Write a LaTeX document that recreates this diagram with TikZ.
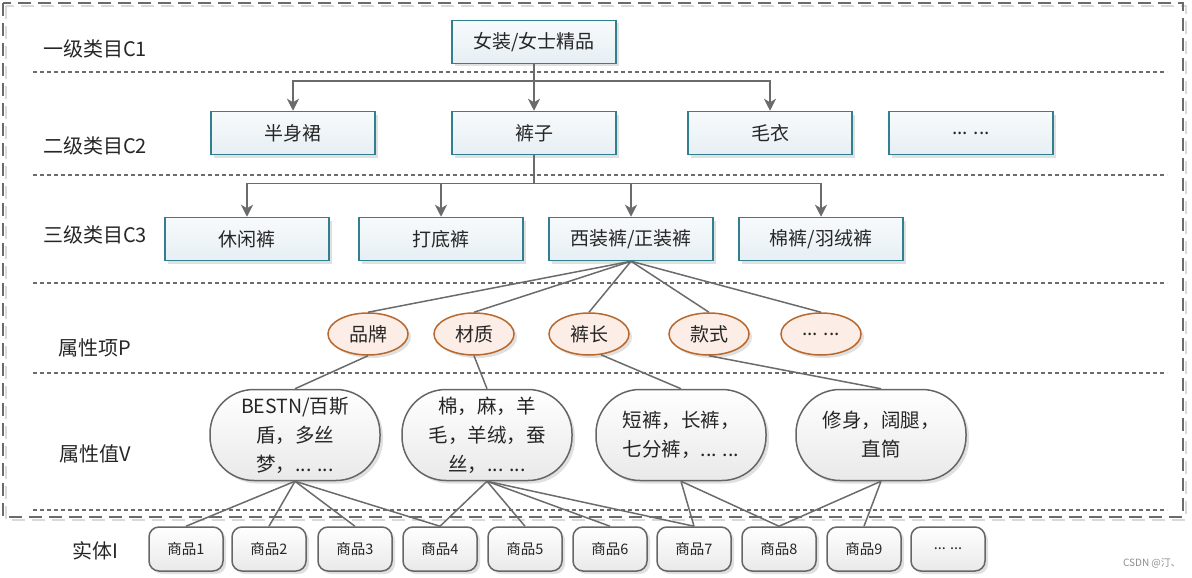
\documentclass[tikz,border=0pt]{standalone}
\usepackage{fontspec}
\setmainfont{Noto Sans CJK SC}
\usetikzlibrary{arrows.meta,shapes,shadows}
\definecolor{catline}{HTML}{31808F}
\definecolor{catfill}{HTML}{E6EFF4}
\definecolor{attrline}{HTML}{B8682C}
\definecolor{attrfill}{HTML}{FCEEE6}
\definecolor{valline}{HTML}{666666}
\definecolor{valfill}{HTML}{E9E9E9}
\definecolor{linegray}{HTML}{6B6B6B}
\tikzset{
  basic/.style  = {draw, line width=1.5pt, align=center, inner sep=0pt,
                   drop shadow={shadow xshift=3pt, shadow yshift=-3pt, fill=black, opacity=.12},
                   font=\fontsize{19}{22}\selectfont, text=black!85},
  category/.style = {basic, rectangle, draw=catline, top color=white!70!catfill,
                   bottom color=catfill, minimum width=164pt, minimum height=43pt},
  attr/.style   = {basic, ellipse, draw=attrline, fill=attrfill,
                   minimum width=80pt, minimum height=42pt},
  value/.style  = {basic, rectangle, rounded corners=44pt, draw=valline,
                   top color=white, bottom color=valfill, minimum width=170pt,
                   minimum height=91pt, font=\fontsize{19.5}{29}\selectfont},
  item/.style   = {basic, rectangle, rounded corners=10pt, draw=valline,
                   top color=white, bottom color=valfill, minimum width=74pt,
                   minimum height=44pt, font=\fontsize{14.5}{16}\selectfont},
  layer/.style  = {font=\fontsize{20}{22}\selectfont, text=black!85},
  sep/.style    = {draw=linegray, line width=1.3pt, dash pattern=on 4pt off 3pt},
  conn/.style   = {draw=linegray, line width=1.5pt}
}

\begin{document}
\begin{tikzpicture}[x=1pt, y=-1pt,
  >={Stealth[length=12pt,width=12pt,inset=3.5pt]}]
\useasboundingbox (0,0) rectangle (1192,578);

% outer frame and layer separators
\draw[black!15, line width=1.5pt, dash pattern=on 13pt off 7pt] (6,6) rectangle (1186,520);
\draw[linegray, line width=1.5pt, dash pattern=on 13pt off 7pt] (3,3) rectangle (1183,517);
\draw[sep] (33,72) -- (1167,72);
\draw[sep] (33,175) -- (1167,175);
\draw[sep] (33,283) -- (1167,283);
\draw[sep] (33,373) -- (1167,373);
\draw[sep] (33,510) -- (1167,510);

% layer names
\node[layer] (l1) at (95,49) {一级类目C1};
\node[layer] (l2) at (95,146) {二级类目C2};
\node[layer] (l3) at (95,235) {三级类目C3};
\node[layer] (l4) at (95,348) {属性项P};
\node[layer] (l5) at (95,454) {属性值V};
\node[layer] (l6) at (95,551) {实体I};

% categories, level 1 to 3
\node[category] (c1) at (534,42) {女装/女士精品};
\node[category] (c21) at (293,133) {半身裙};
\node[category] (c22) at (534,133) {裤子};
\node[category] (c23) at (770,133) {毛衣};
\node[category] (c24) at (971,133) {... ...};
\node[category] (c31) at (247,239) {休闲裤};
\node[category] (c32) at (441,239) {打底裤};
\node[category] (c33) at (631,239) {西装裤/正装裤};
\node[category] (c34) at (821,239) {棉裤/羽绒裤};

% attributes of the leaf category
\node[attr] (p1) at (368,334) {品牌};
\node[attr] (p2) at (474,334) {材质};
\node[attr] (p3) at (589,334) {裤长};
\node[attr] (p4) at (709,334) {款式};
\node[attr] (p5) at (821,334) {... ...};

% attribute values
\node[value] (v1) at (295,435) {BESTN/百斯\\盾，多丝\\梦，... ...};
\node[value] (v2) at (487,435) {棉，麻，羊\\毛，羊绒，蚕\\丝，... ...};
\node[value] (v3) at (681,435) {短裤，长裤，\\七分裤，... ...};
\node[value] (v4) at (881,435) {修身，阔腿，\\直筒};

% entities
\node[item] (i1) at (186,549) {商品1};
\node[item] (i2) at (269,549) {商品2};
\node[item] (i3) at (355,549) {商品3};
\node[item] (i4) at (440,549) {商品4};
\node[item] (i5) at (525,549) {商品5};
\node[item] (i6) at (610,549) {商品6};
\node[item] (i7) at (694,549) {商品7};
\node[item] (i8) at (779,549) {商品8};
\node[item] (i9) at (864,549) {商品9};
\node[item] (i10) at (948,549) {... ...};

\node[font=\fontsize{10}{12}\selectfont, text=black!45] (mark) at (1152,563) {CSDN @汀、};

% category tree
\draw[conn,->] (c1.south) -- ++(0,17) -| (c21.north);
\draw[conn,->] (c1.south) -- (c22.north);
\draw[conn,->] (c1.south) -- ++(0,17) -| (c23.north);
\draw[conn,->] (c22.south) -- ++(0,28) -| (c31.north);
\draw[conn,->] (c22.south) -- ++(0,28) -| (c32.north);
\draw[conn,->] (c22.south) -- ++(0,28) -| (c33.north);
\draw[conn,->] (c22.south) -- ++(0,28) -| (c34.north);

% category to attributes to values
\draw[conn] (c33.south) -- (p1.north);
\draw[conn] (c33.south) -- (p2.north);
\draw[conn] (c33.south) -- (p3.north);
\draw[conn] (c33.south) -- (p4.north);
\draw[conn] (c33.south) -- (p5.north);
\draw[conn] (p1.south) -- (v1.north);
\draw[conn] (p2.south) -- (v2.north);
\draw[conn] (p3.-60) -- (v3.north);
\draw[conn] (p4.south) -- (v4.north);

% values to entities
\draw[conn] (v1.south) -- (i1.north);
\draw[conn] (v1.south) -- (i2.north);
\draw[conn] (v1.south) -- (i3.north);
\draw[conn] (v1.south) -- (i4.north);
\draw[conn] (v2.south) -- (i4.north);
\draw[conn] (v2.south) -- (i5.north);
\draw[conn] (v2.south) -- (i6.north);
\draw[conn] (v2.south) -- (i7.north);
\draw[conn] (v3.south) -- (i7.north);
\draw[conn] (v3.south) -- (i8.north);
\draw[conn] (v4.south) -- (i8.north);
\draw[conn] (v4.south) -- (i9.north);

\end{tikzpicture}
\end{document}
